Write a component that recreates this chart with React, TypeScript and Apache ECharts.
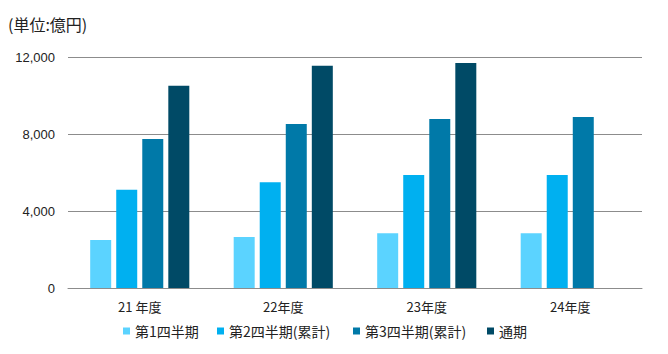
import React, { useEffect, useRef } from "react";
import * as echarts from "echarts";

const categories = ["21 年度", "22年度", "23年度", "24年度"];
const seriesNames = ["第1四半期", "第2四半期(累計)", "第3四半期(累計)", "通期"];
const q1 = [2500, 2650, 2850, 2850];
const q2 = [5100, 5500, 5870, 5870];
const q3 = [7740, 8520, 8780, 8880];
const full: (number | null)[] = [10510, 11550, 11690, null];
const yTicks = { min: 0, max: 12000, interval: 4000 };
const colors = ["#5BD3FF", "#00B0F0", "#0079A8", "#004A66"];
const legendLefts = [123, 217, 353, 487];

const FONT = "'Noto Sans CJK JP', 'Liberation Sans', sans-serif";

export default function App() {
  const ref = useRef<HTMLDivElement>(null);
  useEffect(() => {
    if (!ref.current) return;
    const chart = echarts.init(ref.current, null, { renderer: "svg" });
    const values = [q1, q2, q3, full];
    chart.setOption({
      animation: false,
      backgroundColor: "#ffffff",
      textStyle: { fontFamily: FONT },
      title: {
        text: "(単位:億円)",
        left: 3,
        top: 11,
        textStyle: { fontSize: 16, fontWeight: "normal", color: "#222", fontFamily: FONT },
      },
      legend: seriesNames.map((n, i) => ({
        data: [n],
        left: legendLefts[i],
        top: 324,
        padding: 0,
        icon: "rect",
        itemWidth: 7,
        itemHeight: 7,
        itemGap: 0,
        textStyle: { fontSize: 14, color: "#222", fontFamily: FONT },
      })),
      grid: { left: 68, right: 26, top: 57, bottom: 66, containLabel: false },
      xAxis: {
        type: "category",
        data: categories,
        axisLine: { lineStyle: { color: "#8c8c8c", width: 1 } },
        axisTick: { show: false },
        axisLabel: { fontSize: 13, color: "#222", margin: 12, fontFamily: FONT },
      },
      yAxis: {
        type: "value",
        min: yTicks.min,
        max: yTicks.max,
        interval: yTicks.interval,
        axisLine: { show: false },
        axisTick: { show: false },
        splitLine: { lineStyle: { color: "#8c8c8c", width: 1 } },
        axisLabel: {
          fontSize: 13,
          color: "#222",
          margin: 13,
          fontFamily: "'Liberation Sans', sans-serif",
          formatter: (v: number) => v.toLocaleString("en-US"),
        },
      },
      series: seriesNames.map((n, i) => ({
        name: n,
        type: "bar",
        data: values[i],
        barWidth: 21,
        barGap: "24%",
        itemStyle: { color: colors[i] },
      })),
    });
    return () => chart.dispose();
  }, []);
  return (
    <div
      ref={ref}
      style={{ position: "fixed", left: 0, top: 0, width: 668, height: 354 }}
    />
  );
}
